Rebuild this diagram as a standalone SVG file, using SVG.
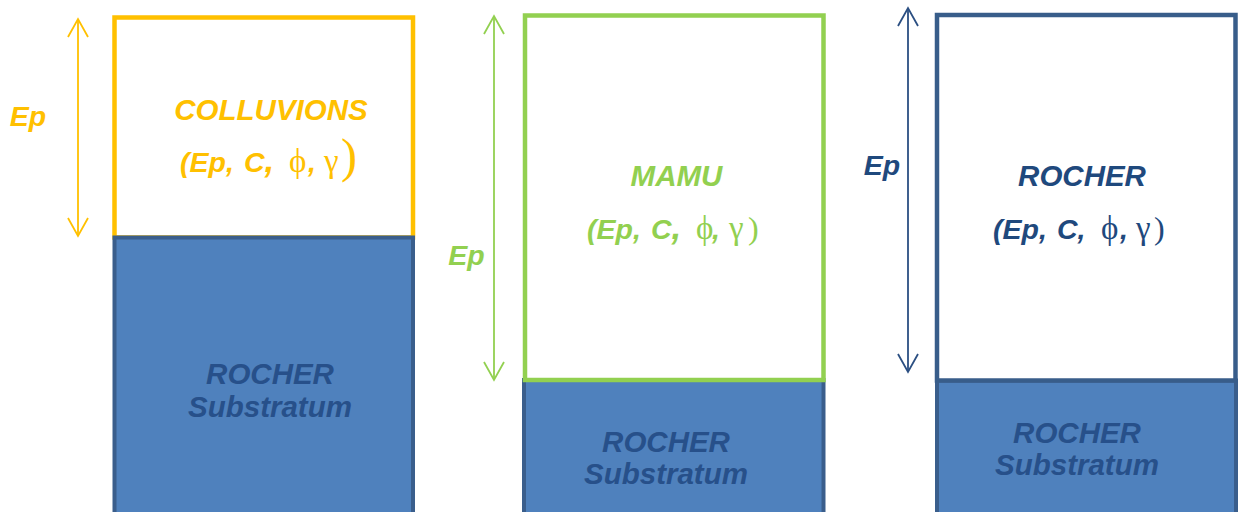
<svg xmlns="http://www.w3.org/2000/svg" width="1241" height="512" viewBox="0 0 1241 512">
<defs>
<style>
.t{font-family:"Liberation Sans",Arial,sans-serif;font-weight:bold;font-style:italic;text-anchor:middle}
.p{font-family:"Liberation Sans",Arial,sans-serif;font-weight:bold;font-style:italic;text-anchor:start;font-size:28.5px}
.g{font-family:"Liberation Serif","DejaVu Serif",serif;font-weight:normal;font-style:normal;font-size:33px}
.pl{font-size:48px}
.ps{font-size:32px}
.hc{font-size:35px}
.rock{fill:#4F81BD;stroke:#3A5E8C;stroke-width:4}
.rt{fill:#27508A;font-size:29.5px}
.y{fill:#FFC000}.gr{fill:#92D050}.b{fill:#1F497D}
.ar{fill:none;stroke-width:1.8}
</style>
<marker id="my" markerUnits="userSpaceOnUse" markerWidth="22" markerHeight="24" viewBox="0 0 22 24" refX="20" refY="12" orient="auto-start-reverse"><path d="M2,2 L20,12 L2,22" fill="none" stroke="#FFC000" stroke-width="1.8"/></marker>
<marker id="mg" markerUnits="userSpaceOnUse" markerWidth="22" markerHeight="24" viewBox="0 0 22 24" refX="20" refY="12" orient="auto-start-reverse"><path d="M2,2 L20,12 L2,22" fill="none" stroke="#92D050" stroke-width="1.8"/></marker>
<marker id="mb" markerUnits="userSpaceOnUse" markerWidth="22" markerHeight="24" viewBox="0 0 22 24" refX="20" refY="12" orient="auto-start-reverse"><path d="M2,2 L20,12 L2,22" fill="none" stroke="#2B4F82" stroke-width="1.8"/></marker>
</defs>
<rect width="1241" height="512" fill="#fff"/>

<g id="colluvions">
<rect x="114.5" y="17.5" width="298.5" height="220" fill="#fff" stroke="#FFC000" stroke-width="4.5"/>
<text class="t y" x="271" y="119.5" font-size="29.5">COLLUVIONS</text>
<text class="p y" y="172"><tspan x="180">(Ep,</tspan><tspan x="244">C</tspan><tspan class="hc">,</tspan><tspan class="g" x="289">ϕ</tspan><tspan x="308">,</tspan><tspan class="g" x="324">γ</tspan><tspan class="g pl" x="341">)</tspan></text>
</g>
<g id="rocher1">
<rect class="rock" x="114.5" y="237.5" width="298.5" height="290"/>
<text class="t rt" x="270" y="384">ROCHER</text>
<text class="t rt" x="270" y="417">Substratum</text>
</g>

<g id="rocher2">
<rect class="rock" x="524" y="380" width="299.5" height="150"/>
<text class="t rt" x="666" y="452">ROCHER</text>
<text class="t rt" x="666" y="484">Substratum</text>
</g>
<g id="mamu">
<rect x="525" y="15.5" width="298.5" height="364.5" fill="#fff" stroke="#92D050" stroke-width="4.5"/>
<text class="t gr" x="676.5" y="186" font-size="29.5">MAMU</text>
<text class="p gr" y="239"><tspan x="587">(Ep,</tspan><tspan x="651">C</tspan><tspan class="hc">,</tspan><tspan class="g" x="696">ϕ</tspan><tspan x="712">,</tspan><tspan class="g" x="729">γ</tspan><tspan class="g ps" x="748">)</tspan></text>
</g>

<g id="rocher3">
<rect class="rock" x="937" y="380.5" width="299" height="150"/>
<text class="t rt" x="1077" y="443">ROCHER</text>
<text class="t rt" x="1077" y="475">Substratum</text>
</g>
<g id="rocher-top">
<rect x="937" y="15" width="298.5" height="365.5" fill="#fff" stroke="#385D8A" stroke-width="4.5"/>
<text class="t b" x="1082" y="186" font-size="29.5">ROCHER</text>
<text class="p b" y="239"><tspan x="993">(Ep,</tspan><tspan x="1057">C,</tspan><tspan class="g" x="1101">ϕ</tspan><tspan x="1120">,</tspan><tspan class="g" x="1136">γ</tspan><tspan class="g ps" x="1154">)</tspan></text>
</g>

<g id="connectors">
<line class="ar" x1="78" y1="19" x2="78" y2="236" stroke="#FFC000" marker-start="url(#my)" marker-end="url(#my)"/>
<line class="ar" x1="494" y1="16" x2="494" y2="380" stroke="#92D050" marker-start="url(#mg)" marker-end="url(#mg)"/>
<line class="ar" x1="908" y1="8" x2="908" y2="372" stroke="#2B4F82" marker-start="url(#mb)" marker-end="url(#mb)"/>
</g>
<g id="labels">
<text class="t y" x="28" y="125.5" font-size="28.5">Ep</text>
<text class="t gr" x="466.5" y="264.5" font-size="28.5">Ep</text>
<text class="t b" x="882" y="175" font-size="28.5">Ep</text>
</g>
</svg>
